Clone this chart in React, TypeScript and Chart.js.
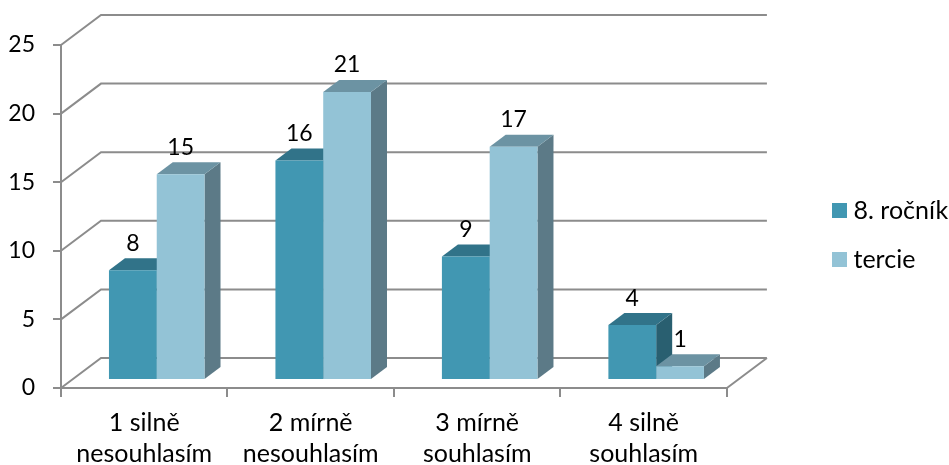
import React, { useEffect, useRef } from "react";
import { Chart, registerables } from "chart.js";

Chart.register(...registerables);

const categories = [
  ["1 silně", "nesouhlasím"],
  ["2 mírně", "nesouhlasím"],
  ["3 mírně", "souhlasím"],
  ["4 silně", "souhlasím"],
];
const rocnik8 = [8, 16, 9, 4];
const tercie = [15, 21, 17, 1];
const yTicks = [0, 5, 10, 15, 20, 25];

const FONT = "Lato, Carlito, sans-serif";
const GRID = "#8c8c8c";
// Oblique projection of the floor: wall depth and where the bars stand on it.
const WALL_DX = 40;
const WALL_DY = -30;
const BAR_DX = 12.5;
const BAR_DY = -8;
const BAR_DEPTH_X = 16;
const BAR_DEPTH_Y = -12;

const faces = [
  { front: "#4197b2", top: "#317389", side: "#295f70" },
  { front: "#93c3d6", top: "#6c93a3", side: "#5c7a87" },
];

const polygon = (ctx: CanvasRenderingContext2D, pts: number[][], fill: string) => {
  ctx.beginPath();
  pts.forEach(([x, y], i) => (i ? ctx.lineTo(x, y) : ctx.moveTo(x, y)));
  ctx.closePath();
  ctx.fillStyle = fill;
  ctx.fill();
};

// Back wall, left wall and floor lines, hung on the value axis.
const wallPlugin = {
  id: "walls",
  beforeDatasetsDraw(chart: any) {
    const { ctx, chartArea, scales } = chart;
    ctx.save();
    ctx.strokeStyle = GRID;
    ctx.lineWidth = 2;
    ctx.beginPath();
    for (const v of yTicks) {
      const y = scales.y.getPixelForValue(v);
      ctx.moveTo(chartArea.left, y);
      ctx.lineTo(chartArea.left + WALL_DX, y + WALL_DY);
      ctx.lineTo(chartArea.right + WALL_DX, y + WALL_DY);
    }
    const y0 = scales.y.getPixelForValue(0);
    ctx.moveTo(chartArea.right, y0);
    ctx.lineTo(chartArea.right + WALL_DX, y0 + WALL_DY);
    ctx.stroke();
    ctx.restore();
  },
};

// Extrudes the bars: depth faces first, then the library's bars as front faces.
const barPlugin = {
  id: "bars3d",
  beforeDatasetsDraw(chart: any) {
    const { ctx } = chart;
    ctx.save();
    ctx.translate(BAR_DX, BAR_DY);
    chart.data.datasets.forEach((_: any, d: number) => {
      chart.getDatasetMeta(d).data.forEach((bar: any) => {
        const l = bar.x - bar.width / 2;
        const r = bar.x + bar.width / 2;
        const t = bar.y;
        const b = bar.base;
        const dx = BAR_DEPTH_X;
        const dy = BAR_DEPTH_Y;
        polygon(ctx, [[r, t], [r + dx, t + dy], [r + dx, b + dy], [r, b]], faces[d].side);
        polygon(ctx, [[l, t], [l + dx, t + dy], [r + dx, t + dy], [r, t]], faces[d].top);
      });
    });
  },
  afterDatasetsDraw(chart: any) {
    const { ctx } = chart;
    ctx.fillStyle = "#000";
    ctx.font = `23px ${FONT}`;
    ctx.textAlign = "center";
    ctx.textBaseline = "middle";
    chart.data.datasets.forEach((ds: any, d: number) => {
      chart.getDatasetMeta(d).data.forEach((bar: any, i: number) => {
        ctx.fillText(String(ds.data[i]), bar.x, bar.y - 27);
      });
    });
    ctx.restore();
  },
};

// Places the legend in the free strip right of the plot.
const legendPlugin = {
  id: "legendPlace",
  afterLayout(chart: any) {
    const legend = chart.legend;
    const pad = legend.options.labels.padding;
    legend.left = 838 - pad;
    legend.right = 949;
    legend.width = legend.right - legend.left;
    legend.top = 198 - pad;
    legend.bottom = legend.top + 200;
    legend.adjustHitBoxes();
  },
};

export default function App() {
  const ref = useRef<HTMLCanvasElement>(null);
  useEffect(() => {
    const chart = new Chart(ref.current!, {
      type: "bar",
      data: {
        labels: categories,
        datasets: [
          { label: "8. ročník", data: rocnik8, backgroundColor: faces[0].front },
          { label: "tercie", data: tercie, backgroundColor: faces[1].front },
        ],
      },
      plugins: [wallPlugin, barPlugin, legendPlugin],
      options: {
        responsive: false,
        animation: false,
        datasets: { bar: { categoryPercentage: 0.574, barPercentage: 1, clip: false } as any },
        layout: { padding: { top: 45, right: 78, left: 0, bottom: 0 } },
        plugins: {
          tooltip: { enabled: false },
          legend: {
            position: "right",
            align: "start",
            labels: {
              color: "#000",
              font: { family: FONT, size: 25 },
              // A thick stroke grows the small swatch while keeping the text close to it.
              boxWidth: 3,
              boxHeight: 3,
              padding: 24,
              generateLabels: (c: any) =>
                Chart.defaults.plugins.legend.labels.generateLabels(c).map((item: any, i: number) => ({
                  ...item,
                  fillStyle: faces[i].front,
                  strokeStyle: faces[i].front,
                  lineWidth: 12,
                })),
            },
          },
        },
        scales: {
          x: {
            afterFit: (s: any) => {
              s.height = 77;
            },
            grid: { drawOnChartArea: false, color: GRID, lineWidth: 2, tickLength: 9 },
            border: { color: GRID, width: 2 },
            ticks: { color: "#000", font: { family: FONT, size: 25, lineHeight: 1.24 }, padding: 10, maxRotation: 0 },
          },
          y: {
            min: 0,
            max: 25,
            afterFit: (s: any) => {
              s.width = 61;
            },
            grid: { drawOnChartArea: false, color: GRID, lineWidth: 2, tickLength: 8 },
            border: { color: GRID, width: 2 },
            ticks: { color: "#000", font: { family: FONT, size: 23 }, stepSize: 5, padding: 18 },
          },
        },
      },
    });
    return () => chart.destroy();
  }, []);
  return (
    <div style={{ position: "absolute", left: 0, top: 0, width: 949, height: 465, background: "#fff" }}>
      <canvas ref={ref} width={949} height={465} style={{ display: "block" }} />
    </div>
  );
}
